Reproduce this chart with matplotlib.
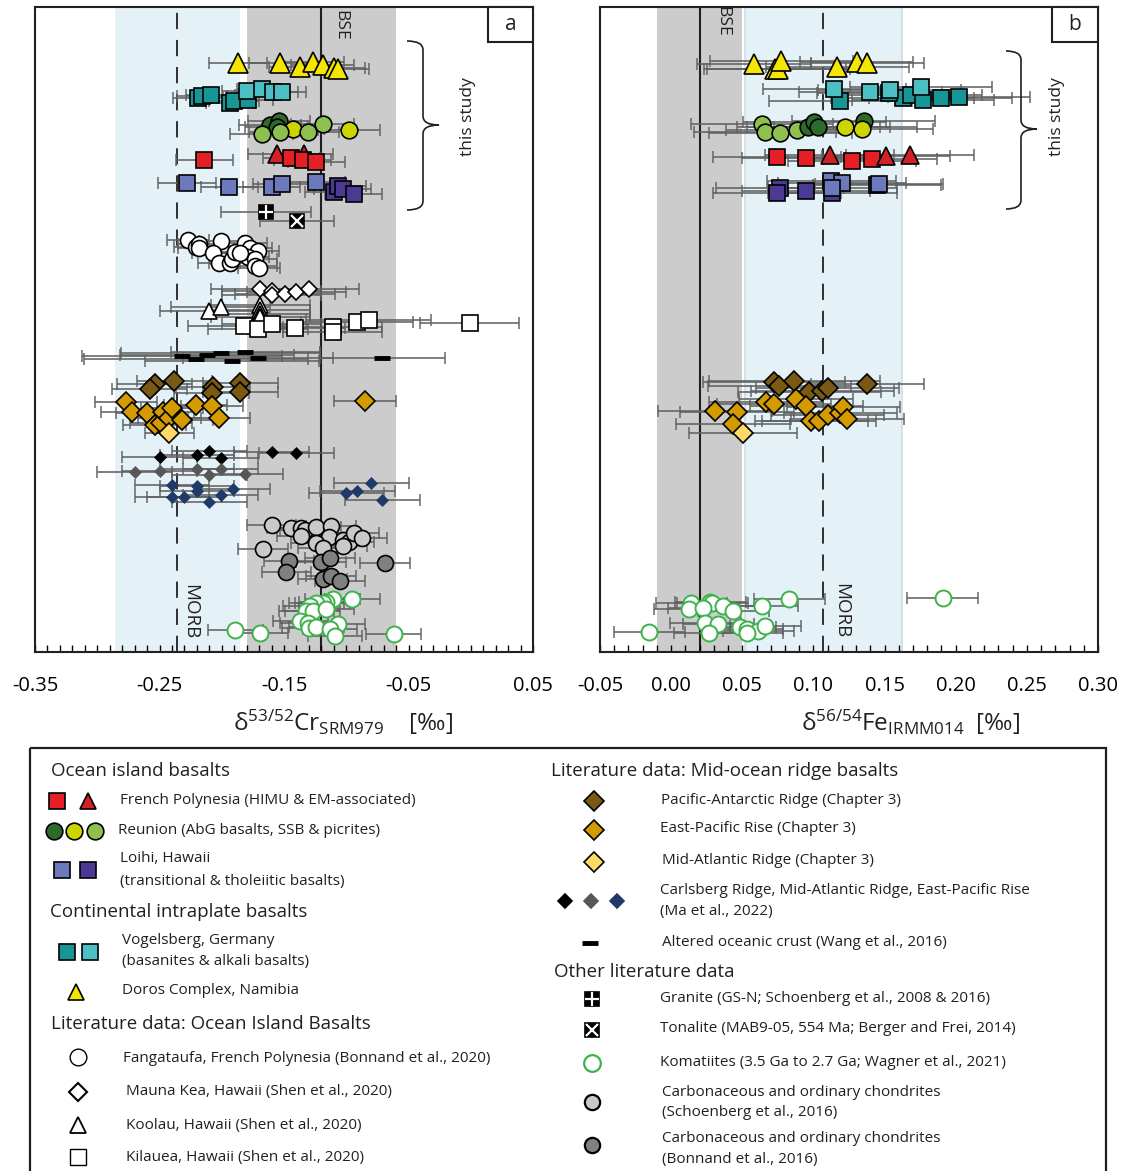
import matplotlib
matplotlib.use('Agg')
import matplotlib.pyplot as plt
from matplotlib.path import Path
from matplotlib.patches import PathPatch, Rectangle
from matplotlib.ticker import MultipleLocator, FixedLocator
import numpy as np

plt.rcParams['font.family'] = ['Open Sans', 'DejaVu Sans']
plt.rcParams['mathtext.default'] = 'regular'
plt.rcParams['axes.unicode_minus'] = False

# ---------------- reference values ----------------
BSE_CR, BSE_CR_HW = -0.12, 0.06
MORB_CR, MORB_CR_LO, MORB_CR_HI = -0.236, -0.286, -0.185
BSE_FE, BSE_FE_LO, BSE_FE_HI = 0.02, -0.01, 0.05
MORB_FE, MORB_FE_LO, MORB_FE_HI = 0.107, 0.052, 0.162

# ---------------- d53Cr (panel a) ----------------
doros_cr = [-0.187, -0.153, -0.137, -0.127, -0.119, -0.110, -0.107]
doros_cr_y = [56, 56, 60, 55, 58, 61, 62]
doros_cr_err = [0.023, 0.025, 0.025, 0.025, 0.025, 0.025, 0.025]

vogel_dark_cr = [-0.219, -0.216, -0.209, -0.193, -0.190, -0.179]
vogel_dark_cr_y = [91, 89, 88, 96, 94, 93]
vogel_dark_cr_err = [0.02, 0.02, 0.02, 0.02, 0.02, 0.02]
vogel_light_cr = [-0.180, -0.168, -0.159, -0.152]
vogel_light_cr_y = [84, 82, 85, 85]
vogel_light_cr_err = [0.02, 0.02, 0.02, 0.02]

reu_abg_cr = [-0.161, -0.154, -0.156]
reu_abg_cr_y = [118, 114, 120]
reu_ssb_cr = [-0.143, -0.098]
reu_ssb_cr_y = [122, 123]
reu_pic_cr = [-0.168, -0.153, -0.131, -0.119]
reu_pic_cr_y = [127, 125, 125, 117]
reu_cr_err = 0.025

fp_sq_cr = [-0.214, -0.144, -0.135, -0.124]
fp_sq_cr_y = [153, 151, 153, 155]
fp_tri_cr = [-0.156, -0.134]
fp_tri_cr_y = [147, 147]
fp_cr_err = 0.023

loihi_tr_cr = [-0.228, -0.194, -0.160, -0.152, -0.124]
loihi_tr_cr_y = [176, 180, 180, 177, 175]
loihi_th_cr = [-0.110, -0.107, -0.103, -0.094]
loihi_th_cr_y = [185, 179, 182, 187]
loihi_cr_err = 0.023

granite_cr, granite_cr_y, granite_cr_err = [-0.1645], [205], [0.036]
tonalite_cr, tonalite_cr_y, tonalite_cr_err = [-0.1396], [214], [0.03]

fang_cr = [-0.227, -0.221, -0.218, -0.218, -0.201, -0.207, -0.202, -0.193, -0.192,
           -0.189, -0.181, -0.177, -0.171, -0.179, -0.173, -0.173, -0.170, -0.185]
fang_cr_y = [233, 240, 237, 241, 234, 246, 256, 256, 252, 245, 236, 241, 244, 250, 252, 259, 261, 246]
fang_cr_err = 0.017

mk_cr = [-0.169, -0.160, -0.160, -0.149, -0.140, -0.130]
mk_cr_y = [282, 284, 288, 287, 285, 282]
mk_cr_err = 0.04

koolau_cr = [-0.210, -0.201, -0.169, -0.169, -0.169, -0.169]
koolau_cr_y = [304, 300, 298, 303, 307, 310]
koolau_cr_err = 0.04

kilauea_cr = [-0.182, -0.171, -0.160, -0.141, -0.111, -0.111, -0.091, -0.082, -0.001]
kilauea_cr_y = [319, 322, 317, 321, 320, 325, 315, 313, 316]
kilauea_cr_err = [0.045, 0.04, 0.04, 0.04, 0.04, 0.04, 0.045, 0.05, 0.04]

aoc_cr = [-0.232, -0.221, -0.212, -0.201, -0.192, -0.181, -0.171, -0.071]
aoc_cr_y = [349, 352, 348, 346, 354, 345, 351, 351]
aoc_cr_err = [0.08, 0.09, 0.07, 0.08, 0.07, 0.06, 0.06, 0.05]

par_cr = [-0.254, -0.258, -0.238, -0.207, -0.208, -0.185, -0.185]
par_cr_y = [377, 382, 374, 380, 386, 376, 385]
par_cr_err = 0.03

epr_cr = [-0.277, -0.272, -0.260, -0.254, -0.249, -0.247, -0.242, -0.240, -0.232,
          -0.221, -0.208, -0.202, -0.085]
epr_cr_y = [395, 405, 406, 418, 416, 405, 411, 401, 413, 398, 399, 411, 394]
epr_cr_err = 0.025

mar_cr, mar_cr_y, mar_cr_err = [-0.242], [426], [0.02]

ma_crb_cr = [-0.250, -0.220, -0.210, -0.201, -0.160, -0.140]
ma_crb_cr_y = [450, 448, 444, 451, 445, 446]
ma_mar_cr = [-0.270, -0.250, -0.220, -0.210, -0.201, -0.181]
ma_mar_cr_y = [465, 464, 462, 468, 462, 467]
ma_epr_cr = [-0.240, -0.240, -0.230, -0.220, -0.220, -0.210, -0.201, -0.191,
             -0.100, -0.091, -0.080, -0.071]
ma_epr_cr_y = [478, 490, 490, 479, 484, 495, 488, 482, 486, 484, 476, 493]
ma_cr_err = 0.03

chon_s_cr = [-0.160, -0.144, -0.136, -0.133, -0.124, -0.112, -0.136, -0.114,
             -0.124, -0.119, -0.167, -0.103, -0.098, -0.094, -0.087, -0.103]
chon_s_cr_y = [518, 521, 521, 523, 520, 519, 529, 530, 536, 541, 542, 533, 535, 526, 531, 539]
chon_b_cr = [-0.146, -0.148, -0.120, -0.113, -0.119, -0.112, -0.105, -0.069]
chon_b_cr_y = [554, 565, 555, 551, 572, 569, 574, 556]
chon_cr_err = 0.02

kom_cr = [-0.095, -0.111, -0.116, -0.119, -0.124, -0.129, -0.132, -0.127, -0.116, -0.137,
          -0.131, -0.130, -0.124, -0.107, -0.113, -0.109, -0.189, -0.169, -0.062]
kom_cr_y = [592, 592, 595, 596, 596, 599, 604, 604, 602, 614, 616, 621, 620, 617, 622, 629, 623, 626, 627]
kom_cr_err = 0.022

# ---------------- d56Fe (panel b) ----------------
doros_fe = [0.0585, 0.0732, 0.0754, 0.0775, 0.1169, 0.1303, 0.138]
doros_fe_y = [57, 62, 62, 54, 60, 55, 56]
doros_fe_err = [0.04, 0.05, 0.05, 0.05, 0.05, 0.04, 0.04]

vogel_light_fe = [0.1148, 0.1401, 0.1535, 0.1754]
vogel_light_fe_y = [82, 85, 83, 80]
vogel_dark_fe = [0.119, 0.1627, 0.1683, 0.1768, 0.1894, 0.2021, 0.1528]
vogel_dark_fe_y = [94, 91, 88, 93, 91, 90, 86]
vogel_fe_err = 0.05

reu_pic_fe = [0.0641, 0.0662, 0.0768, 0.0887]
reu_pic_fe_y = [117, 125, 126, 123]
reu_abg_fe = [0.0965, 0.1007, 0.1035, 0.1352]
reu_abg_fe_y = [120, 115, 120, 114]
reu_ssb_fe = [0.1225, 0.1338]
reu_ssb_fe_y = [120, 122]
reu_fe_err = 0.05

fp_sq_fe = [0.0746, 0.0951, 0.1268, 0.1415]
fp_sq_fe_y = [150, 151, 154, 152]
fp_tri_fe = [0.1113, 0.1507, 0.1676]
fp_tri_fe_y = [148, 149, 148]
fp_fe_err = 0.045

loihi_tr_fe = [0.1127, 0.1204, 0.1458, 0.1134]
loihi_tr_fe_y = [174, 176, 177, 181]
loihi_th_fe = [0.0768, 0.0746, 0.0951, 0.1134, 0.1444]
loihi_th_fe_y = [181, 186, 184, 186, 178]
loihi_fe_err = 0.045

par_fe = [0.0725, 0.0761, 0.0866, 0.0972, 0.1063, 0.1099, 0.138]
par_fe_y = [375, 379, 374, 385, 384, 381, 377]
par_fe_err = [0.05, 0.05, 0.06, 0.05, 0.05, 0.05, 0.04]

epr_fe = [0.031, 0.0465, 0.0669, 0.0725, 0.088, 0.0951, 0.0986, 0.1042, 0.1099,
          0.119, 0.1211, 0.1239, 0.0437]
epr_fe_y = [404, 405, 395, 397, 392, 399, 414, 414, 408, 406, 400, 412, 417]
epr_fe_err = 0.04

mar_fe, mar_fe_y, mar_fe_err = [0.0507], [426], [0.038]

kom_fe = [0.0831, 0.1908, 0.0141, 0.0275, 0.0289, 0.0127, 0.0225, 0.0366, 0.0437, 0.0641,
          0.0239, 0.0331, 0.0486, 0.0535, 0.0613, 0.0662, 0.0268, -0.0155, 0.0535]
kom_fe_y = [592, 591, 596, 595, 596, 602, 601, 599, 604, 599, 616, 617, 620, 622, 624, 619, 626, 625, 626]
kom_fe_err = 0.025

# ---------------- colours ----------------
C_RED, C_RED_TRI = '#e42026', '#d0202a'
C_ABG, C_SSB, C_PIC = '#2d6a2b', '#ccd500', '#8dc04f'
C_LOIHI_TR, C_LOIHI_TH = '#6c7abd', '#4c3994'
C_VOG_DARK, C_VOG_LIGHT = '#189696', '#4bbfc4'
C_DOROS = '#f4e600'
C_PAR, C_EPR, C_MAR = '#7a5914', '#d49b00', '#ffd966'
C_MA_CRB, C_MA_MAR, C_MA_EPR = '#000000', '#575757', '#1f3a68'
C_CHON_S, C_CHON_B = '#c9c9c9', '#808080'
C_KOM = '#3bb34a'
C_BAR = '#5f5f5f'
C_BLUE_BAND, C_GRAY_BAND = '#e4f2f7', '#cccccc'

W, H = 1128, 1171
fig = plt.figure(figsize=(W / 100, H / 100), dpi=100)


def fbox(x0, y0, x1, y1):
    return [x0 / W, 1 - y1 / H, (x1 - x0) / W, (y1 - y0) / H]


axA = fig.add_axes(fbox(35, 7, 533, 652))
axB = fig.add_axes(fbox(600, 7, 1098, 652))


def series(ax, x, y, err, marker, face, size, edge='black', mew=1.2, z=4):
    ax.errorbar(x, y, xerr=err, fmt='none', ecolor=C_BAR, elinewidth=1.4,
                capsize=4.5, capthick=1.3, alpha=0.8, zorder=2)
    ax.plot(x, y, ls='none', marker=marker, ms=size, mfc=face, mec=edge,
            mew=mew, zorder=z)


def style_axis(ax, lo, hi, major, label_fmt):
    ax.set_xlim(lo, hi)
    ax.set_ylim(645, 0)
    ticks = np.round(np.arange(lo, hi + 1e-9, major), 3)
    ax.xaxis.set_major_locator(FixedLocator(ticks))
    ax.set_xticklabels([label_fmt % t for t in ticks])
    ax.xaxis.set_minor_locator(MultipleLocator(0.01))
    ax.tick_params(axis='x', which='both', direction='in', length=5, width=1,
                   top=False, pad=17, labelsize=14.5)
    ax.set_yticks([])
    for s in ax.spines.values():
        s.set_linewidth(1.5)
        s.set_color('#231f20')


# ---- panel a ----
axA.axvspan(MORB_CR_LO, MORB_CR_HI, color=C_BLUE_BAND, lw=0, zorder=0)
axA.axvspan(BSE_CR - BSE_CR_HW, BSE_CR + BSE_CR_HW, color=C_GRAY_BAND, lw=0, zorder=0)
axA.axvline(BSE_CR, color='#231f20', lw=1.5, zorder=1)
axA.axvline(MORB_CR, color='#231f20', lw=1.3, ls=(0, (9, 6)), zorder=1)

series(axA, doros_cr, doros_cr_y, doros_cr_err, '^', C_DOROS, 14)
series(axA, vogel_dark_cr, vogel_dark_cr_y, vogel_dark_cr_err, 's', C_VOG_DARK, 12)
series(axA, vogel_light_cr, vogel_light_cr_y, vogel_light_cr_err, 's', C_VOG_LIGHT, 12)
series(axA, reu_abg_cr, reu_abg_cr_y, reu_cr_err, 'o', C_ABG, 12)
series(axA, reu_ssb_cr, reu_ssb_cr_y, reu_cr_err, 'o', C_SSB, 12)
series(axA, reu_pic_cr, reu_pic_cr_y, reu_cr_err, 'o', C_PIC, 12)
series(axA, fp_tri_cr, fp_tri_cr_y, fp_cr_err, '^', C_RED_TRI, 13)
series(axA, fp_sq_cr, fp_sq_cr_y, fp_cr_err, 's', C_RED, 12)
series(axA, loihi_tr_cr, loihi_tr_cr_y, loihi_cr_err, 's', C_LOIHI_TR, 12)
series(axA, loihi_th_cr, loihi_th_cr_y, loihi_cr_err, 's', C_LOIHI_TH, 12)

series(axA, granite_cr, granite_cr_y, granite_cr_err, 's', 'black', 10)
axA.plot(granite_cr, granite_cr_y, ls='none', marker='+', ms=10, mec='white', mew=1.6, zorder=5)
series(axA, tonalite_cr, tonalite_cr_y, tonalite_cr_err, 's', 'black', 10)
axA.plot(tonalite_cr, tonalite_cr_y, ls='none', marker='x', ms=8, mec='white', mew=1.6, zorder=5)

series(axA, fang_cr, fang_cr_y, fang_cr_err, 'o', 'white', 11.5)
series(axA, mk_cr, mk_cr_y, mk_cr_err, 'D', 'white', 8.5)
series(axA, koolau_cr, koolau_cr_y, koolau_cr_err, '^', 'white', 12)
series(axA, kilauea_cr, kilauea_cr_y, kilauea_cr_err, 's', 'white', 12)
axA.errorbar(aoc_cr, aoc_cr_y, xerr=aoc_cr_err, fmt='none', ecolor=C_BAR,
             elinewidth=1.4, capsize=4.5, capthick=1.3, alpha=0.8, zorder=2)
axA.plot(aoc_cr, aoc_cr_y, ls='none', marker='_', ms=11, mec='black', mew=3.5, zorder=4)

series(axA, par_cr, par_cr_y, par_cr_err, 'D', C_PAR, 10)
series(axA, epr_cr, epr_cr_y, epr_cr_err, 'D', C_EPR, 10)
series(axA, mar_cr, mar_cr_y, mar_cr_err, 'D', C_MAR, 10)
series(axA, ma_crb_cr, ma_crb_cr_y, ma_cr_err, 'D', C_MA_CRB, 6.5, edge=C_MA_CRB, mew=0.5)
series(axA, ma_mar_cr, ma_mar_cr_y, ma_cr_err, 'D', C_MA_MAR, 6.5, edge=C_MA_MAR, mew=0.5)
series(axA, ma_epr_cr, ma_epr_cr_y, ma_cr_err, 'D', C_MA_EPR, 6.5, edge=C_MA_EPR, mew=0.5)

series(axA, chon_s_cr, chon_s_cr_y, chon_cr_err, 'o', C_CHON_S, 11.5)
series(axA, chon_b_cr, chon_b_cr_y, chon_cr_err, 'o', C_CHON_B, 11.5)
series(axA, kom_cr, kom_cr_y, kom_cr_err, 'o', 'white', 11.5, edge=C_KOM, mew=1.4)

style_axis(axA, -0.35, 0.05, 0.1, '%.2f')

# ---- panel b ----
axB.axvspan(BSE_FE_LO, BSE_FE_HI, color=C_GRAY_BAND, lw=0, zorder=0)
axB.axvspan(MORB_FE_LO, MORB_FE_HI, facecolor=C_BLUE_BAND, edgecolor='#cfdde3', lw=1.2, zorder=0)
axB.axvline(BSE_FE, color='#231f20', lw=1.5, zorder=1)
axB.axvline(MORB_FE, color='#231f20', lw=1.3, ls=(0, (9, 6)), zorder=1)

series(axB, doros_fe, doros_fe_y, doros_fe_err, '^', C_DOROS, 14)
series(axB, vogel_dark_fe, vogel_dark_fe_y, vogel_fe_err, 's', C_VOG_DARK, 12)
series(axB, vogel_light_fe, vogel_light_fe_y, vogel_fe_err, 's', C_VOG_LIGHT, 12)
series(axB, reu_pic_fe, reu_pic_fe_y, reu_fe_err, 'o', C_PIC, 12)
series(axB, reu_abg_fe, reu_abg_fe_y, reu_fe_err, 'o', C_ABG, 12)
series(axB, reu_ssb_fe, reu_ssb_fe_y, reu_fe_err, 'o', C_SSB, 12)
series(axB, fp_sq_fe, fp_sq_fe_y, fp_fe_err, 's', C_RED, 12)
series(axB, fp_tri_fe, fp_tri_fe_y, fp_fe_err, '^', C_RED_TRI, 13)
series(axB, loihi_th_fe, loihi_th_fe_y, loihi_fe_err, 's', C_LOIHI_TH, 12)
series(axB, loihi_tr_fe, loihi_tr_fe_y, loihi_fe_err, 's', C_LOIHI_TR, 12)
series(axB, par_fe, par_fe_y, par_fe_err, 'D', C_PAR, 10)
series(axB, epr_fe, epr_fe_y, epr_fe_err, 'D', C_EPR, 10)
series(axB, mar_fe, mar_fe_y, mar_fe_err, 'D', C_MAR, 10)
series(axB, kom_fe, kom_fe_y, kom_fe_err, 'o', 'white', 11.5, edge=C_KOM, mew=1.4)

style_axis(axB, -0.05, 0.30, 0.05, '%.2f')

# ---- overlay in pixel space: panel annotations and key ----
ov = fig.add_axes([0, 0, 1, 1], zorder=10)
ov.set_xlim(0, W)
ov.set_ylim(H, 0)
ov.axis('off')

TXT = '#231f20'
# panel letters
for (x0, x1, letter) in [(488, 533, 'a'), (1052, 1098, 'b')]:
    ov.add_patch(Rectangle((x0, 7), x1 - x0, 35, fc='white', ec=TXT, lw=1.5))
    ov.text((x0 + x1) / 2, 24, letter, ha='center', va='center', fontsize=15, color=TXT)

ov.text(340, 25, 'BSE', rotation=-90, ha='center', va='center', fontsize=12.5, color=TXT)
ov.text(722, 21, 'BSE', rotation=-90, ha='center', va='center', fontsize=12.5, color=TXT)
ov.text(190, 612, 'MORB', rotation=-90, ha='center', va='center', fontsize=13.5, color=TXT)
ov.text(841, 611, 'MORB', rotation=-90, ha='center', va='center', fontsize=13.5, color=TXT)
ov.text(468, 117, 'this study', rotation=90, ha='center', va='center', fontsize=12.5, color=TXT)
ov.text(1057, 117, 'this study', rotation=90, ha='center', va='center', fontsize=12.5, color=TXT)


def brace(x_end, x_spine, x_tip, y_top, y_tip, y_bot):
    r = 9
    verts = [(x_end, y_top), (x_spine, y_top), (x_spine, y_top + r),
             (x_spine, y_tip - r), (x_spine, y_tip), (x_tip, y_tip),
             (x_spine, y_tip), (x_spine, y_tip + r),
             (x_spine, y_bot - r), (x_spine, y_bot), (x_end, y_bot)]
    codes = [Path.MOVETO, Path.CURVE3, Path.CURVE3, Path.LINETO, Path.CURVE3, Path.CURVE3,
             Path.CURVE3, Path.CURVE3, Path.LINETO, Path.CURVE3, Path.CURVE3]
    ov.add_patch(PathPatch(Path(verts, codes), fc='none', ec=TXT, lw=1.2))


brace(407, 423, 439, 41, 125, 210)
brace(1006, 1021, 1037, 51, 129, 209)

# axis titles
fig.text(343 / W, 1 - 722 / H, 'δ$^{53/52}$Cr$_{SRM979}$    [‰]', ha='center', va='center',
         fontsize=17.5, color=TXT)
fig.text(911 / W, 1 - 722 / H, 'δ$^{56/54}$Fe$_{IRMM014}$  [‰]', ha='center', va='center',
         fontsize=17.5, color=TXT)

# key frame
ov.add_patch(Rectangle((30, 748), 1076, 440, fc='none', ec=TXT, lw=1.6, clip_on=False))

HEAD = 13.5
ITEM = 11
for (x, y, s) in [(51, 771, 'Ocean island basalts'),
                  (50, 912, 'Continental intraplate basalts'),
                  (51, 1024, 'Literature data: Ocean Island Basalts'),
                  (551, 771, 'Literature data: Mid-ocean ridge basalts'),
                  (554, 972, 'Other literature data')]:
    ov.text(x, y, s, ha='left', va='center', fontsize=HEAD, color=TXT)

for (x, y, s) in [(120, 801, 'French Polynesia (HIMU & EM-associated)'),
                  (118, 830, 'Reunion (AbG basalts, SSB & picrites)'),
                  (120, 859, 'Loihi, Hawaii'),
                  (120, 881, '(transitional & tholeiitic basalts)'),
                  (122, 941, 'Vogelsberg, Germany'),
                  (122, 962, '(basanites & alkali basalts)'),
                  (122, 991, 'Doros Complex, Namibia'),
                  (123, 1058, 'Fangataufa, French Polynesia (Bonnand et al., 2020)'),
                  (126, 1092, 'Mauna Kea, Hawaii (Shen et al., 2020)'),
                  (126, 1126, 'Koolau, Hawaii (Shen et al., 2020)'),
                  (126, 1157, 'Kilauea, Hawaii (Shen et al., 2020)'),
                  (661, 800, 'Pacific-Antarctic Ridge (Chapter 3)'),
                  (660, 829, 'East-Pacific Rise (Chapter 3)'),
                  (662, 861, 'Mid-Atlantic Ridge (Chapter 3)'),
                  (660, 890, 'Carlsberg Ridge, Mid-Atlantic Ridge, East-Pacific Rise'),
                  (660, 911, '(Ma et al., 2022)'),
                  (662, 942, 'Altered oceanic crust (Wang et al., 2016)'),
                  (660, 999, 'Granite (GS-N; Schoenberg et al., 2008 & 2016)'),
                  (660, 1028, 'Tonalite (MAB9-05, 554 Ma; Berger and Frei, 2014)'),
                  (660, 1062, 'Komatiites (3.5 Ga to 2.7 Ga; Wagner et al., 2021)'),
                  (662, 1092, 'Carbonaceous and ordinary chondrites'),
                  (662, 1113, '(Schoenberg et al., 2016)'),
                  (662, 1138, 'Carbonaceous and ordinary chondrites'),
                  (662, 1160, '(Bonnand et al., 2016)')]:
    ov.text(x, y, s, ha='left', va='center', fontsize=ITEM, color=TXT)


def key(x, y, marker, face, size, edge='black', mew=1.2):
    ov.plot([x], [y], ls='none', marker=marker, ms=size, mfc=face, mec=edge, mew=mew)


key(57, 801, 's', C_RED, 11)
key(88, 801, '^', C_RED_TRI, 12)
key(54, 831, 'o', C_ABG, 12)
key(74, 831, 'o', C_SSB, 12)
key(95, 831, 'o', C_PIC, 12)
key(62, 870, 's', C_LOIHI_TR, 11)
key(88, 870, 's', C_LOIHI_TH, 11)
key(67, 952, 's', C_VOG_DARK, 11)
key(90, 952, 's', C_VOG_LIGHT, 11)
key(76, 992, '^', C_DOROS, 11)
key(78, 1057, 'o', 'white', 12, mew=1.0)
key(78, 1092, 'D', 'white', 9, mew=1.5)
key(78, 1125, '^', 'white', 12, mew=1.3)
key(78, 1157, 's', 'white', 11, mew=1.0)
key(594, 801, 'D', C_PAR, 10)
key(594, 830, 'D', C_EPR, 10)
key(594, 862, 'D', C_MAR, 10)
key(565, 901, 'D', C_MA_CRB, 7, edge=C_MA_CRB)
key(591, 901, 'D', C_MA_MAR, 7, edge=C_MA_MAR)
key(617, 901, 'D', C_MA_EPR, 7, edge=C_MA_EPR)
key(590, 943, '_', 'black', 11, mew=3.5)
key(592, 999, 's', 'black', 10)
ov.plot([592], [999], ls='none', marker='+', ms=10, mec='white', mew=1.6)
key(592, 1030, 's', 'black', 10)
ov.plot([592], [1030], ls='none', marker='x', ms=8, mec='white', mew=1.6)
key(592, 1063, 'o', 'white', 12, edge=C_KOM, mew=1.6)
key(592, 1102, 'o', C_CHON_S, 11, mew=1.6)
key(592, 1145, 'o', C_CHON_B, 11, mew=1.6)

fig.savefig('out.png', dpi=100)
